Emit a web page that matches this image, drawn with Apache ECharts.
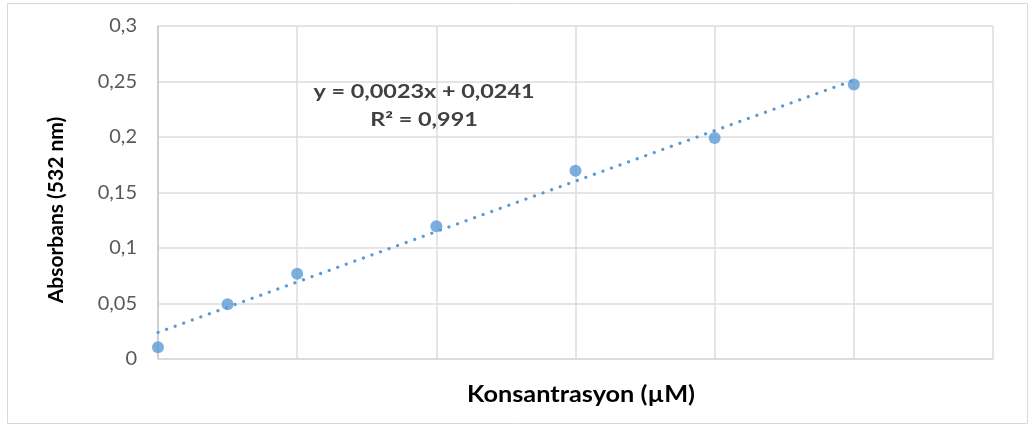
<!DOCTYPE html>
<html>
<head>
<meta charset="utf-8">
<script src="https://cdn.jsdelivr.net/npm/echarts@6/dist/echarts.min.js"></script>
<style>html,body{margin:0;padding:0;background:#fff}#c{width:1035px;height:425px}</style>
</head>
<body>
<div id="c"></div>
<script>
// Data
var concentrations = [0, 10, 20, 40, 60, 80, 100];
var absorbance = [0.0105, 0.0493, 0.0767, 0.1195, 0.1695, 0.199, 0.2474];
var yTicks = [0, 0.05, 0.1, 0.15, 0.2, 0.25, 0.3];
var equationLines = ['y = 0,0023x + 0,0241', 'R² = 0,991'];
var xTitle = 'Konsantrasyon (µM)';
var yTitle = 'Absorbans (532 nm)';

var points = concentrations.map(function (x, i) { return [x, absorbance[i]]; });

// Linear trendline (least squares) over the data, like the spreadsheet's trendline
var n = concentrations.length, sx = 0, sy = 0, sxx = 0, sxy = 0;
for (var i = 0; i < n; i++) {
  sx += concentrations[i]; sy += absorbance[i];
  sxx += concentrations[i] * concentrations[i]; sxy += concentrations[i] * absorbance[i];
}
var slope = (n * sxy - sx * sy) / (n * sxx - sx * sx);
var intercept = (sy - slope * sx) / n;
var xFirst = concentrations[0], xLast = concentrations[n - 1];
var trend = [[xFirst, slope * xFirst + intercept], [xLast, slope * xLast + intercept]];

var chart = echarts.init(document.getElementById('c'), null, { renderer: 'canvas' });
var blue = '#5B9BD5';
chart.setOption({
  animation: false,
  backgroundColor: '#fff',
  textStyle: { fontFamily: 'Lato' },
  grid: { left: 158, right: 42, top: 26, bottom: 66, containLabel: false },
  graphic: [
    { type: 'rect', shape: { x: 7.5, y: 3.5, width: 1020, height: 420 },
      style: { fill: 'none', stroke: '#d9d9d9', lineWidth: 1 }, silent: true },
    { type: 'text', x: 424, y: 92, scaleX: 1.3, z: 10,
      style: { text: equationLines[0], fill: '#404040', font: 'bold 18px Lato',
               textAlign: 'center', textVerticalAlign: 'middle' } },
    { type: 'text', x: 424, y: 120, scaleX: 1.3, z: 10,
      style: { text: equationLines[1], fill: '#404040', font: 'bold 18px Lato',
               textAlign: 'center', textVerticalAlign: 'middle' } },
    { type: 'text', x: 581, y: 395, scaleX: 1.15,
      style: { text: xTitle, fill: '#000', font: 'bold 22px Lato',
               textAlign: 'center', textVerticalAlign: 'middle' } },
    { type: 'text', x: 56, y: 210, rotation: Math.PI / 2,
      style: { text: yTitle, fill: '#000', font: 'bold 21px Lato',
               textAlign: 'center', textVerticalAlign: 'middle' } }
  ],
  xAxis: {
    type: 'value', min: 0, max: 120, interval: 20,
    axisLabel: { show: false },
    axisTick: { show: false },
    axisLine: { show: true, lineStyle: { color: '#d9d9d9', width: 1.5 } },
    splitLine: { show: true, lineStyle: { color: '#dcdcdc', width: 1.5 } }
  },
  yAxis: {
    type: 'value', min: yTicks[0], max: yTicks[yTicks.length - 1], interval: 0.05,
    axisLabel: { margin: 21, fontSize: 20, color: '#595959', fontFamily: 'Lato',
      formatter: function (v) { return String(+v.toFixed(2)).replace('.', ','); } },
    axisTick: { show: false },
    axisLine: { show: true, lineStyle: { color: '#c8c8c8', width: 1.5 } },
    splitLine: { show: true, lineStyle: { color: '#dcdcdc', width: 1.5 } }
  },
  series: [
    { type: 'line', data: trend, symbol: 'none', z: 2,
      lineStyle: { color: blue, width: 3.2, type: [0.1, 9], cap: 'round' } },
    { type: 'scatter', data: points, symbol: 'circle', symbolSize: 12, z: 3,
      itemStyle: { color: blue } }
  ]
});
</script>
</body>
</html>
